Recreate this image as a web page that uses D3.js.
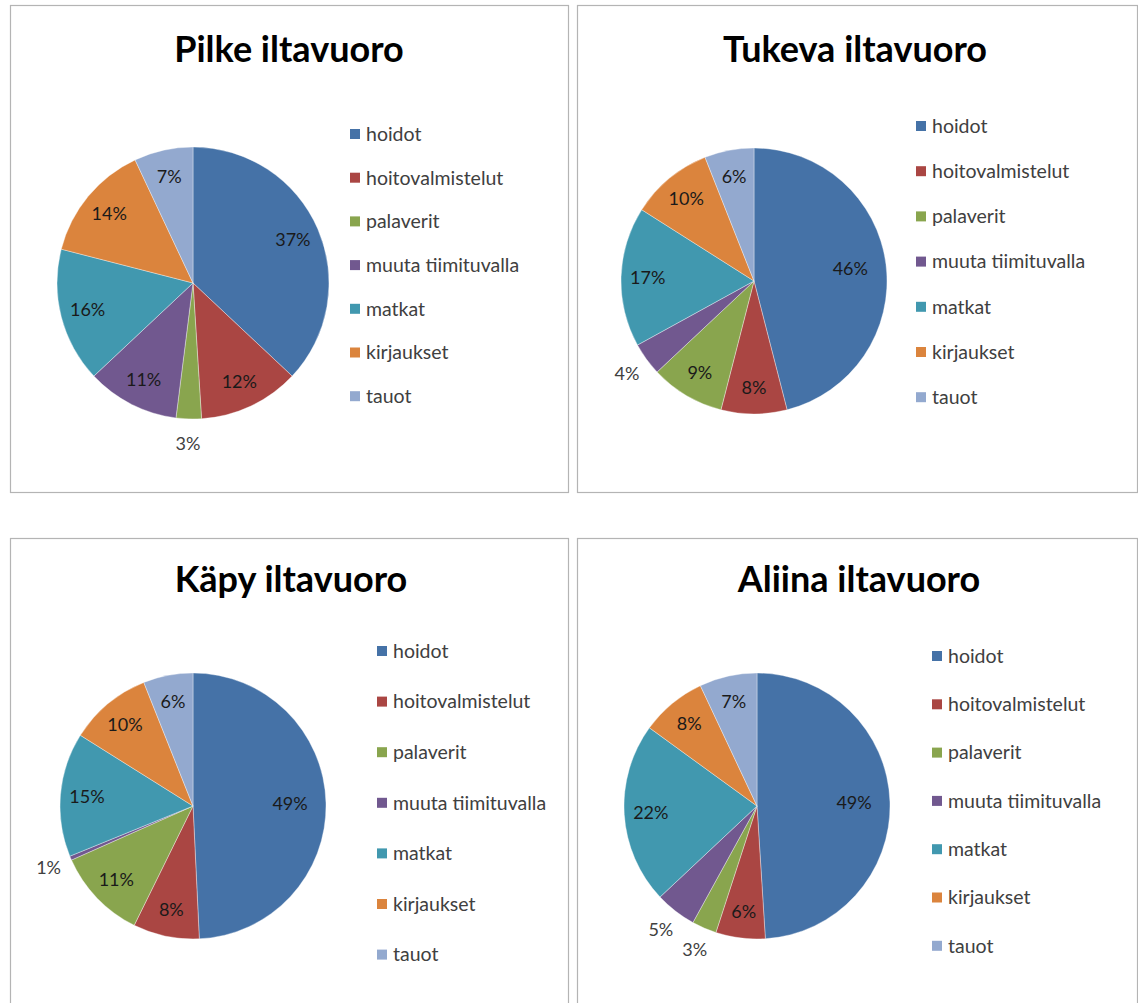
<!DOCTYPE html>
<html>
<head>
<meta charset="utf-8">
<script src="https://cdn.jsdelivr.net/npm/d3@7"></script>
<style>
  html, body { margin: 0; padding: 0; background: #fff; }
  svg { display: block; }
</style>
</head>
<body>
<svg id="chart" width="1138" height="1003"></svg>
<script>
// ---- DATA ----
const categories = ["hoidot", "hoitovalmistelut", "palaverit", "muuta tiimituvalla", "matkat", "kirjaukset", "tauot"];
const titles = ["Pilke iltavuoro", "Tukeva iltavuoro", "Käpy iltavuoro", "Aliina iltavuoro"];
const pilkeValues  = [37, 12, 3, 11, 16, 14, 7];
const tukevaValues = [46, 8, 9, 4, 17, 10, 6];
const kapyValues   = [49, 8, 11, 0.5, 15, 10, 6];
const aliinaValues = [49, 6, 3, 5, 22, 8, 7];
const seriesValues = [pilkeValues, tukevaValues, kapyValues, aliinaValues];
const colors = ["#4572a7", "#aa4643", "#89a54e", "#71588f", "#4198af", "#db843d", "#93a9cf"];

// ---- LAYOUT ----
const layout = [
  { box: [10, 5, 558, 487],  title: [289, 62],  cx: 193, cy: 283, r: 136, legX: 350, legY: 134, legStep: 43.7 },
  { box: [577, 5, 560, 487], title: [855, 62],  cx: 754, cy: 281, r: 133, legX: 916, legY: 126, legStep: 45.2 },
  { box: [10, 538, 558, 480], title: [291, 592], cx: 193, cy: 806, r: 133, legX: 377, legY: 651, legStep: 50.6 },
  { box: [577, 538, 560, 480], title: [859, 592], cx: 757, cy: 806, r: 133, legX: 932, legY: 656, legStep: 48.3 }
];

const svg = d3.select("#chart");
const color = d3.scaleOrdinal().domain(categories).range(colors);
const pie = d3.pie().sort(null).value(d => d.value);

seriesValues.forEach((vals, i) => {
  const L = layout[i];
  const g = svg.append("g");
  g.append("rect")
    .attr("x", L.box[0] + 0.5).attr("y", L.box[1] + 0.5)
    .attr("width", L.box[2]).attr("height", L.box[3])
    .attr("fill", "#fff").attr("stroke", "#b4b4b4").attr("stroke-width", 1.2);

  g.append("text")
    .attr("x", L.title[0]).attr("y", L.title[1])
    .attr("text-anchor", "middle")
    .attr("font-family", "Lato, 'Open Sans', sans-serif")
    .attr("font-weight", "bold").attr("font-size", 36)
    .attr("fill", "#000")
    .text(titles[i]);

  const data = categories.map((c, k) => ({ cat: c, value: vals[k] }));
  const total = d3.sum(vals);
  const arcs = pie(data);
  const arc = d3.arc().innerRadius(0).outerRadius(L.r);
  const pg = g.append("g").attr("transform", `translate(${L.cx},${L.cy})`);
  pg.selectAll("path").data(arcs).join("path")
    .attr("d", arc)
    .attr("fill", d => color(d.data.cat))
    .attr("stroke", "#ffffff").attr("stroke-width", 0.6).attr("stroke-opacity", 0.6);

  pg.selectAll("text").data(arcs).join("text")
    .each(function(d) {
      const pct = d.data.value / total * 100;
      const small = pct <= 5.5;
      const big = pct > 40;
      const rr = L.r * (small ? 1.18 : (big ? 0.73 : 0.8));
      const a = (d.startAngle + d.endAngle) / 2;
      d3.select(this)
        .attr("x", Math.sin(a) * rr)
        .attr("y", -Math.cos(a) * rr)
        .attr("dy", "0.35em")
        .attr("fill", small ? "#404040" : "#1a1a1a")
        .text(Math.round(pct) + "%");
    })
    .attr("text-anchor", "middle")
    .attr("font-family", "Lato, 'Open Sans', sans-serif")
    .attr("font-size", 18);

  const lg = g.append("g");
  categories.forEach((c, k) => {
    const y = L.legY + k * L.legStep;
    lg.append("rect").attr("x", L.legX).attr("y", y - 5).attr("width", 10).attr("height", 10)
      .attr("fill", color(c));
    lg.append("text").attr("x", L.legX + 16).attr("y", y).attr("dy", "0.35em")
      .attr("font-family", "Lato, 'Open Sans', sans-serif").attr("font-size", 19.5)
      .attr("fill", "#404040").text(c);
  });
});
</script>
</body>
</html>
